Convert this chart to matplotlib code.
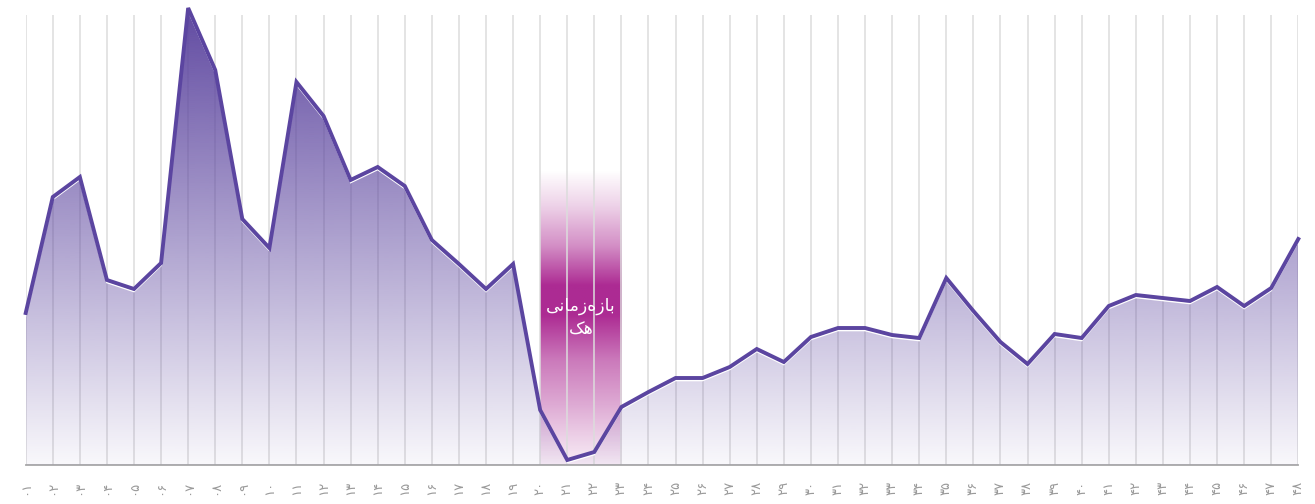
#!/usr/bin/env python
import numpy as np
import matplotlib
matplotlib.use("Agg")
import matplotlib.pyplot as plt
from matplotlib.transforms import offset_copy

# daily values, day 1 .. day 48
days = list(range(1, 49))
values = [152, 268, 288, 185, 176, 202, 457, 395, 246, 217,
          383, 349, 285, 298, 279, 225, 201, 176, 201, 55,
          5, 13, 58, 73, 87, 87, 98, 116, 103, 128,
          137, 137, 130, 127, 187, 154, 123, 101, 131, 127,
          159, 170, 167, 164, 178, 159, 177, 226]

# persian digit labels ۰۱ .. ۴۸
fa_digits = "۰۱۲۳۴۵۶۷۸۹"
day_labels = ["".join(fa_digits[int(c)] for c in "%02d" % d) for d in days]

# hack window (start day, end day) and its caption
hack_start, hack_end = 20, 23
# "بازه‌زمانی" / "هک" written in shaped presentation forms, visual order
hack_caption = "\ufef0\ufee7\ufe8e\ufee3\ufeaf\ufee9\ufeaf\ufe8e\ufe91" + "\n" + "\ufb8f\ufeeb"

line_color = "#5b45a0"

plt.rcParams['font.family'] = ['DejaVu Sans']

fig = plt.figure(figsize=(13.15, 5.04), dpi=100)
ax = fig.add_axes([25.7 / 1315, 39 / 504, (1298.3 - 25.7) / 1315, 465 / 504])
ax.set_xlim(1, 48)
ax.set_ylim(0, 465)

# hack window band, magenta fading out at the top
band_alpha = np.interp(np.linspace(0, 295, 300),
                       [0, 30, 60, 105, 150, 180, 220, 260, 295],
                       [0.08, 0.22, 0.38, 0.6, 0.95, 0.95, 0.5, 0.2, 0.0])
band = np.zeros((300, 1, 4))
band[:, 0, :3] = matplotlib.colors.to_rgb("#a81f8d")
band[:, 0, 3] = band_alpha
ax.imshow(band, extent=[hack_start, hack_end, 0, 295], origin="lower",
          aspect="auto", interpolation="bilinear", zorder=1)

# vertical grid lines
ax.vlines(days, 0, 450, color="#dcdcdc", lw=1.3, alpha=0.85, zorder=2)

# gradient fill under the curve
grad = np.zeros((256, 1, 4))
grad[:, 0, :3] = matplotlib.colors.to_rgb("#5e47a0")
grad[:, 0, 3] = np.linspace(0.04, 1.0, 256)
poly = ax.fill_between(days, values, 0, color="none", lw=0, zorder=3)
img = ax.imshow(grad, extent=[1, 48, 0, 465], origin="lower", aspect="auto",
                interpolation="bilinear", zorder=3)
img.set_clip_path(poly.get_paths()[0], transform=ax.transData)

# thin white edge just under the line, then the line itself
shadow = offset_copy(ax.transData, fig=fig, x=0, y=-2.5, units="dots")
ax.plot(days, values, color="white", lw=1.2, transform=shadow, zorder=4,
        solid_joinstyle="miter")
ax.plot(days, values, color=line_color, lw=2.8, zorder=5,
        solid_joinstyle="miter", clip_on=False)

ax.text((hack_start + hack_end) / 2, 147, hack_caption, color="white",
        fontsize=12.5, ha="center", va="center", linespacing=1.45, zorder=6)

ax.set_xticks(days)
ax.set_xticklabels(day_labels, rotation=90, fontsize=9.5, color="#9a9a9a")
ax.tick_params(axis="x", length=0, pad=16.5)
for lbl in ax.get_xticklabels():
    lbl.set_verticalalignment("center")
ax.set_yticks([])
for s in ["top", "left", "right"]:
    ax.spines[s].set_visible(False)
ax.spines["bottom"].set_color("#a8a8a8")
ax.spines["bottom"].set_linewidth(1.3)
ax.patch.set_alpha(0)

fig.savefig("out.png", dpi=100)
